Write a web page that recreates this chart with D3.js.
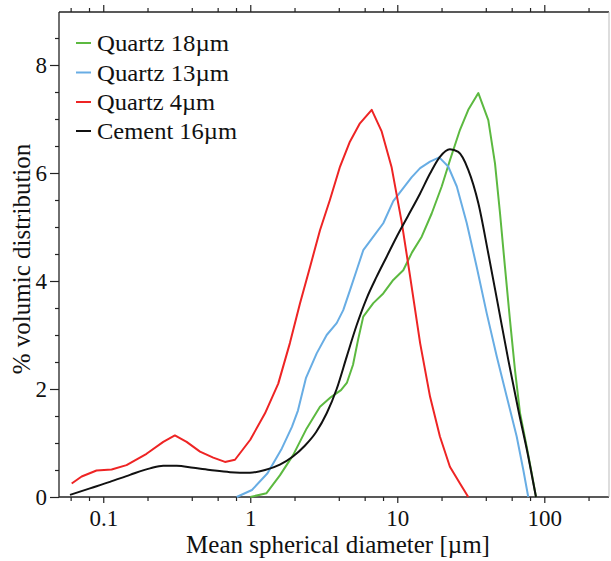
<!DOCTYPE html>
<html><head><meta charset="utf-8">
<script src="https://cdn.jsdelivr.net/npm/d3@7"></script>
<style>
html,body{margin:0;padding:0;background:#fff;}
text{font-family:"Liberation Serif","Times New Roman",serif;fill:#111;}
</style></head>
<body><svg id="c" width="611" height="561"></svg>
<script>
// Series labels and colours
const seriesNames = ["Quartz 18µm", "Quartz 13µm", "Quartz 4µm", "Cement 16µm"];
const seriesColors = ["#5cb940", "#68ade4", "#ee2424", "#111111"];

// Quartz 18µm
const q18Diam = [1.0, 1.29, 1.59, 1.96, 2.42, 2.98, 3.54, 4.14, 4.55, 5.0, 5.4, 5.87, 6.87, 8.03, 9.39, 10.98, 12.6, 14.66, 17.14, 20.05, 22.84, 26.7, 30.4, 35.6, 41.6, 46.2, 50.0, 54.0, 58.4, 63.2, 68.4, 75.9, 82.1, 87.8];
const q18Vol  = [0, 0.07, 0.4, 0.78, 1.27, 1.67, 1.85, 1.98, 2.12, 2.45, 2.9, 3.34, 3.59, 3.77, 4.02, 4.2, 4.53, 4.82, 5.25, 5.75, 6.24, 6.8, 7.17, 7.48, 6.98, 6.18, 5.25, 4.26, 3.28, 2.35, 1.55, 0.93, 0.44, 0];

// Quartz 13µm
const q13Diam = [0.808, 1.027, 1.31, 1.64, 1.92, 2.11, 2.39, 2.83, 3.31, 3.87, 4.29, 4.77, 5.29, 5.87, 6.87, 8.03, 9.39, 10.98, 12.5, 14.3, 16.7, 19.3, 22.2, 25.4, 29.7, 34.7, 40.6, 47.5, 55.5, 64.9, 72.0, 77.8];
const q13Vol  = [0, 0.13, 0.44, 0.9, 1.3, 1.6, 2.2, 2.66, 3.0, 3.22, 3.46, 3.83, 4.2, 4.57, 4.82, 5.07, 5.48, 5.72, 5.92, 6.09, 6.21, 6.29, 6.12, 5.75, 5.07, 4.26, 3.40, 2.6, 1.86, 1.12, 0.5, 0];

// Quartz 4µm
const q4Diam = [0.061, 0.0713, 0.090, 0.114, 0.144, 0.197, 0.256, 0.307, 0.369, 0.455, 0.560, 0.673, 0.787, 1.0, 1.26, 1.55, 1.86, 2.18, 2.55, 2.98, 3.48, 4.08, 4.76, 5.57, 6.70, 7.83, 9.16, 10.7, 12.2, 14.3, 16.7, 19.5, 22.8, 26.7, 30.4];
const q4Vol  = [0.25, 0.38, 0.49, 0.51, 0.59, 0.80, 1.02, 1.14, 1.02, 0.84, 0.73, 0.65, 0.69, 1.06, 1.55, 2.1, 2.85, 3.59, 4.26, 4.94, 5.5, 6.12, 6.58, 6.92, 7.17, 6.77, 6.10, 5.10, 4.1, 2.85, 1.86, 1.12, 0.56, 0.25, 0];

// Cement 16µm
const cemDiam = [0.0594, 0.0812, 0.111, 0.152, 0.208, 0.256, 0.316, 0.410, 0.532, 0.728, 0.995, 1.26, 1.59, 1.95, 2.35, 2.80, 3.31, 3.87, 4.53, 5.29, 6.19, 7.24, 8.47, 9.91, 11.8, 14.3, 16.7, 19.5, 22.8, 26.0, 30.4, 35.6, 41.6, 48.7, 56.9, 66.6, 77.8, 87.8];
const cemVol  = [0.04, 0.16, 0.28, 0.41, 0.53, 0.58, 0.58, 0.54, 0.5, 0.46, 0.45, 0.5, 0.6, 0.75, 0.95, 1.2, 1.55, 2.0, 2.6, 3.18, 3.68, 4.08, 4.45, 4.82, 5.2, 5.62, 5.99, 6.30, 6.44, 6.39, 6.06, 5.44, 4.51, 3.52, 2.54, 1.61, 0.75, 0];

// Axis ticks
const xMajorTicks = [0.1, 1, 10, 100];
const xMajorLabels = ["0.1", "1", "10", "100"];
const xMinorTicks = [0.06, 0.08, 0.2, 0.4, 0.6, 0.8, 2, 4, 6, 8, 20, 40, 60, 80, 200];
const yMajorTicks = [0, 2, 4, 6, 8];
const yMinorTicks = [0.5, 1, 1.5, 2.5, 3, 3.5, 4.5, 5, 5.5, 6.5, 7, 7.5, 8.5];
const xTitle = "Mean spherical diameter [µm]";
const yTitle = "% volumic distribution";

const seriesData = [
  {diam: q18Diam, vol: q18Vol, smooth: false},
  {diam: q13Diam, vol: q13Vol, smooth: false},
  {diam: q4Diam, vol: q4Vol, smooth: false},
  {diam: cemDiam, vol: cemVol, smooth: true}
];

const L = 59, R = 609, T = 12, B = 497;
const svg = d3.select("#c");
const x = d3.scaleLog().domain([0.05, 275.5]).range([L, R]);
const y = d3.scaleLinear().domain([0, 9]).range([B, B - 9 * 54]);

const ax = svg.append("g").attr("stroke", "#222").attr("stroke-width", 1.3).attr("fill", "none");
ax.append("line").attr("x1", L).attr("x2", R).attr("y1", B).attr("y2", B);
ax.append("line").attr("x1", L).attr("x2", R).attr("y1", T).attr("y2", T);
ax.append("line").attr("x1", L).attr("x2", L).attr("y1", T).attr("y2", B);
ax.append("line").attr("x1", R).attr("x2", R).attr("y1", T).attr("y2", B).attr("stroke", "#bbb").attr("stroke-width", 1);

// bottom axis
const gBottom = svg.append("g").attr("transform", `translate(0,${B})`)
  .call(d3.axisBottom(x).tickValues(xMajorTicks).tickFormat((d, i) => xMajorLabels[i]).tickSize(6).tickPadding(7));
const gBottomMinor = svg.append("g").attr("transform", `translate(0,${B})`)
  .call(d3.axisBottom(x).tickValues(xMinorTicks).tickFormat("").tickSize(4));
// top axis
const gTop = svg.append("g").attr("transform", `translate(0,${T})`)
  .call(d3.axisTop(x).tickValues(xMajorTicks).tickFormat("").tickSize(7));
const gTopMinor = svg.append("g").attr("transform", `translate(0,${T})`)
  .call(d3.axisTop(x).tickValues(xMinorTicks).tickFormat("").tickSize(4));
// left axis
const gLeft = svg.append("g").attr("transform", `translate(${L},0)`)
  .call(d3.axisLeft(y).tickValues(yMajorTicks).tickFormat(d3.format("d")).tickSize(9).tickPadding(3));
const gLeftMinor = svg.append("g").attr("transform", `translate(${L},0)`)
  .call(d3.axisLeft(y).tickValues(yMinorTicks).tickFormat("").tickSize(4));

[gBottom, gBottomMinor, gTop, gTopMinor, gLeft, gLeftMinor].forEach(g => {
  g.select(".domain").remove();
  g.selectAll(".tick line").attr("stroke", "#222").attr("stroke-width", 1.2);
  g.selectAll(".tick text").attr("font-family", "Liberation Serif").attr("font-size", 23).attr("fill", "#111");
});

// lines
seriesData.forEach((s, i) => {
  const line = d3.line().x(d => x(d[0])).y(d => y(d[1]))
    .curve(s.smooth ? d3.curveMonotoneX : d3.curveLinear);
  const pts = s.diam.map((d, j) => [d, s.vol[j]]);
  svg.append("path").datum(pts).attr("d", line)
    .attr("fill", "none").attr("stroke", seriesColors[i]).attr("stroke-width", 2)
    .attr("stroke-linejoin", "round");
});

// titles
svg.append("text").attr("x", 338).attr("y", 553).attr("text-anchor", "middle")
  .attr("font-size", 25).text(xTitle);
svg.append("text").attr("transform", "translate(30,259) rotate(-90)").attr("text-anchor", "middle")
  .attr("font-size", 25).text(yTitle);

// legend (text widths matched to the reference's condensed rendering)
const legY = [43, 72.5, 102, 131];
const legW = [132, 132, 118, 140];
seriesNames.forEach((n, i) => {
  svg.append("line").attr("x1", 76).attr("x2", 91).attr("y1", legY[i]).attr("y2", legY[i])
    .attr("stroke", seriesColors[i]).attr("stroke-width", 2);
  svg.append("text").attr("x", 97).attr("y", legY[i] + 8).attr("font-size", 23)
    .attr("textLength", legW[i]).attr("lengthAdjust", "spacingAndGlyphs").text(n);
});
</script></body></html>
